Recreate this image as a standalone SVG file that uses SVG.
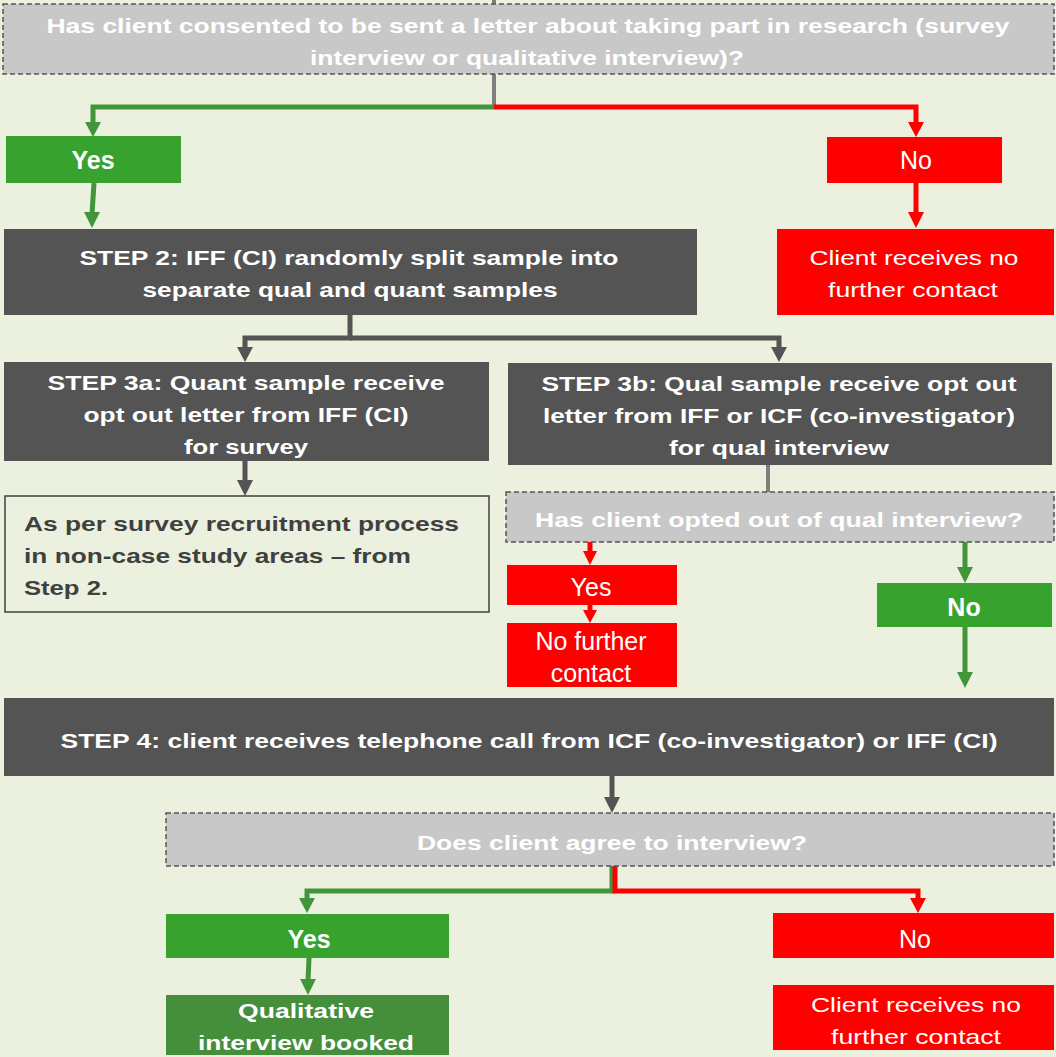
<svg xmlns="http://www.w3.org/2000/svg" width="1056" height="1057" viewBox="0 0 1056 1057">
<style>
.t{font-family:"Liberation Sans",Arial,sans-serif;font-size:21px;text-anchor:middle;fill:#fff}
.s{font-size:25px}
.b{font-weight:bold}
.dk{fill:#545454}
.q{fill:#c8c8c8;stroke:#555;stroke-width:1.5;stroke-dasharray:5 3}
.g{fill:#38a22e}
.r{fill:#ff0000}
.cg{stroke:#43953b;stroke-width:5;fill:none}
.cr{stroke:#ff0000;stroke-width:5;fill:none}
.cd{stroke:#545454;stroke-width:5;fill:none}
.cm{stroke:#7f7f7f;stroke-width:4;fill:none}
</style>
<rect width="1056" height="1057" fill="#ebf1de"/>
<g id="connectors">
<line x1="494" y1="0" x2="494" y2="5" class="cm"/>
<line x1="494" y1="74" x2="494" y2="107" class="cm"/>
<polyline points="494,107 93,107 93,124" class="cg"/>
<path d="M85,122 L101,122 L93,137 Z" fill="#43953b"/>
<polyline points="494,107 916,107 916,124" class="cr"/>
<path d="M908,122 L924,122 L916,137 Z" fill="#ff0000"/>
<line x1="94" y1="183" x2="92" y2="214" class="cg"/>
<path d="M84,212 L100,212 L92,228 Z" fill="#43953b"/>
<line x1="916" y1="183" x2="916" y2="214" class="cr"/>
<path d="M908,212 L924,212 L916,228 Z" fill="#ff0000"/>
<polyline points="350,315 350,338 245,338 245,349" class="cd"/>
<path d="M237,347 L253,347 L245,362 Z" fill="#545454"/>
<polyline points="350,338 779,338 779,349" class="cd"/>
<path d="M771,347 L787,347 L779,362 Z" fill="#545454"/>
<line x1="245" y1="461" x2="245" y2="482" class="cd"/>
<path d="M237,480 L253,480 L245,496 Z" fill="#545454"/>
<line x1="768" y1="465" x2="768" y2="492" class="cm"/>
<line x1="590" y1="542" x2="590" y2="553" class="cr"/>
<path d="M583,551 L597,551 L590,565 Z" fill="#ff0000"/>
<line x1="590" y1="605" x2="590" y2="612" class="cr"/>
<path d="M583,610 L597,610 L590,623 Z" fill="#ff0000"/>
<line x1="965" y1="542" x2="965" y2="569" class="cg"/>
<path d="M957,567 L973,567 L965,583 Z" fill="#43953b"/>
<line x1="965" y1="627" x2="965" y2="674" class="cg"/>
<path d="M957,672 L973,672 L965,688 Z" fill="#43953b"/>
<line x1="612" y1="776" x2="612" y2="799" class="cd"/>
<path d="M604,797 L620,797 L612,813 Z" fill="#545454"/>
<polyline points="612,866 612,891 307,891 307,900" class="cg"/>
<path d="M299,898 L315,898 L307,913 Z" fill="#43953b"/>
<polyline points="615,866 615,891 918,891 918,900" class="cr"/>
<path d="M910,898 L926,898 L918,913 Z" fill="#ff0000"/>
<line x1="309" y1="958" x2="308" y2="981" class="cg"/>
<path d="M300,979 L316,979 L308,995 Z" fill="#43953b"/>
</g>
<g id="q1">
<rect x="3" y="4" width="1051" height="70" class="q"/>
<text class="t b" x="528" y="33" textLength="963" lengthAdjust="spacingAndGlyphs">Has client consented  to  be sent  a letter about taking part in research (survey</text>
<text class="t b" x="527" y="65" textLength="434" lengthAdjust="spacingAndGlyphs">interview or qualitative interview)?</text>
</g>
<g id="yes1"><rect x="6" y="136" width="175" height="47" class="g"/><text class="t s b" x="93" y="169">Yes</text></g>
<g id="no1"><rect x="827" y="137" width="175" height="46" class="r"/><text class="t s" x="916" y="169">No</text></g>
<g id="step2">
<rect x="4" y="229" width="693" height="86" class="dk"/>
<text class="t b" x="349" y="265" textLength="539" lengthAdjust="spacingAndGlyphs">STEP 2: IFF (CI) randomly split sample into</text>
<text class="t b" x="350" y="297" textLength="415" lengthAdjust="spacingAndGlyphs">separate qual and quant samples</text>
</g>
<g id="nocontact1">
<rect x="777" y="229" width="277" height="86" class="r"/>
<text class="t" x="914" y="265" textLength="209" lengthAdjust="spacingAndGlyphs">Client receives  no</text>
<text class="t" x="913" y="297" textLength="170" lengthAdjust="spacingAndGlyphs">further contact</text>
</g>
<g id="step3a">
<rect x="4" y="362" width="485" height="99" class="dk"/>
<text class="t b" x="246" y="390" textLength="397" lengthAdjust="spacingAndGlyphs">STEP 3a: Quant sample receive</text>
<text class="t b" x="246" y="422" textLength="325" lengthAdjust="spacingAndGlyphs">opt out letter from IFF (CI)</text>
<text class="t b" x="246" y="454" textLength="124" lengthAdjust="spacingAndGlyphs">for survey</text>
</g>
<g id="step3b">
<rect x="508" y="363" width="544" height="102" class="dk"/>
<text class="t b" x="779" y="391" textLength="475" lengthAdjust="spacingAndGlyphs">STEP 3b: Qual sample receive opt out</text>
<text class="t b" x="779" y="423" textLength="472" lengthAdjust="spacingAndGlyphs">letter from IFF or ICF (co-investigator)</text>
<text class="t b" x="779" y="455" textLength="220" lengthAdjust="spacingAndGlyphs">for qual interview</text>
</g>
<g id="survey">
<rect x="5" y="496" width="484" height="116" fill="#ebf1de" stroke="#404040" stroke-width="1.5"/>
<text class="t b" x="24" y="531" style="text-anchor:start;fill:#404040" textLength="435" lengthAdjust="spacingAndGlyphs">As per survey  recruitment process</text>
<text class="t b" x="24" y="563" style="text-anchor:start;fill:#404040" textLength="387" lengthAdjust="spacingAndGlyphs">in non-case study  areas – from</text>
<text class="t b" x="24" y="595" style="text-anchor:start;fill:#404040" textLength="84" lengthAdjust="spacingAndGlyphs">Step 2.</text>
</g>
<g id="q2">
<rect x="506" y="492" width="548" height="50" class="q"/>
<text class="t b" x="779" y="527" textLength="488" lengthAdjust="spacingAndGlyphs">Has client opted out of qual interview?</text>
</g>
<g id="yes2"><rect x="507" y="565" width="170" height="40" class="r"/><text class="t s" x="591" y="596">Yes</text></g>
<g id="nocontact2">
<rect x="507" y="623" width="170" height="64" class="r"/>
<text class="t s" x="591" y="650">No further</text>
<text class="t s" x="591" y="682">contact</text>
</g>
<g id="no2"><rect x="877" y="583" width="175" height="44" class="g"/><text class="t s b" x="964" y="616">No</text></g>
<g id="step4">
<rect x="4" y="698" width="1050" height="78" class="dk"/>
<text class="t b" x="529" y="748" textLength="937" lengthAdjust="spacingAndGlyphs">STEP 4: client receives telephone call from ICF (co-investigator)  or IFF (CI)</text>
</g>
<g id="q3">
<rect x="166" y="813" width="888" height="53" class="q"/>
<text class="t b" x="612" y="850" textLength="390" lengthAdjust="spacingAndGlyphs">Does client agree to interview?</text>
</g>
<g id="yes3"><rect x="166" y="914" width="283" height="44" class="g"/><text class="t s b" x="309" y="948">Yes</text></g>
<g id="no3"><rect x="773" y="913" width="281" height="45" class="r"/><text class="t s" x="915" y="948">No</text></g>
<g id="booked">
<rect x="166" y="995" width="283" height="60" fill="#448e3c"/>
<text class="t b" x="306" y="1018" textLength="136" lengthAdjust="spacingAndGlyphs">Qualitative</text>
<text class="t b" x="306" y="1050" textLength="216" lengthAdjust="spacingAndGlyphs">interview booked</text>
</g>
<g id="nocontact3">
<rect x="773" y="985" width="281" height="65" class="r"/>
<text class="t" x="916" y="1012" textLength="210" lengthAdjust="spacingAndGlyphs">Client receives  no</text>
<text class="t" x="916" y="1044" textLength="170" lengthAdjust="spacingAndGlyphs">further contact</text>
</g>
</svg>
